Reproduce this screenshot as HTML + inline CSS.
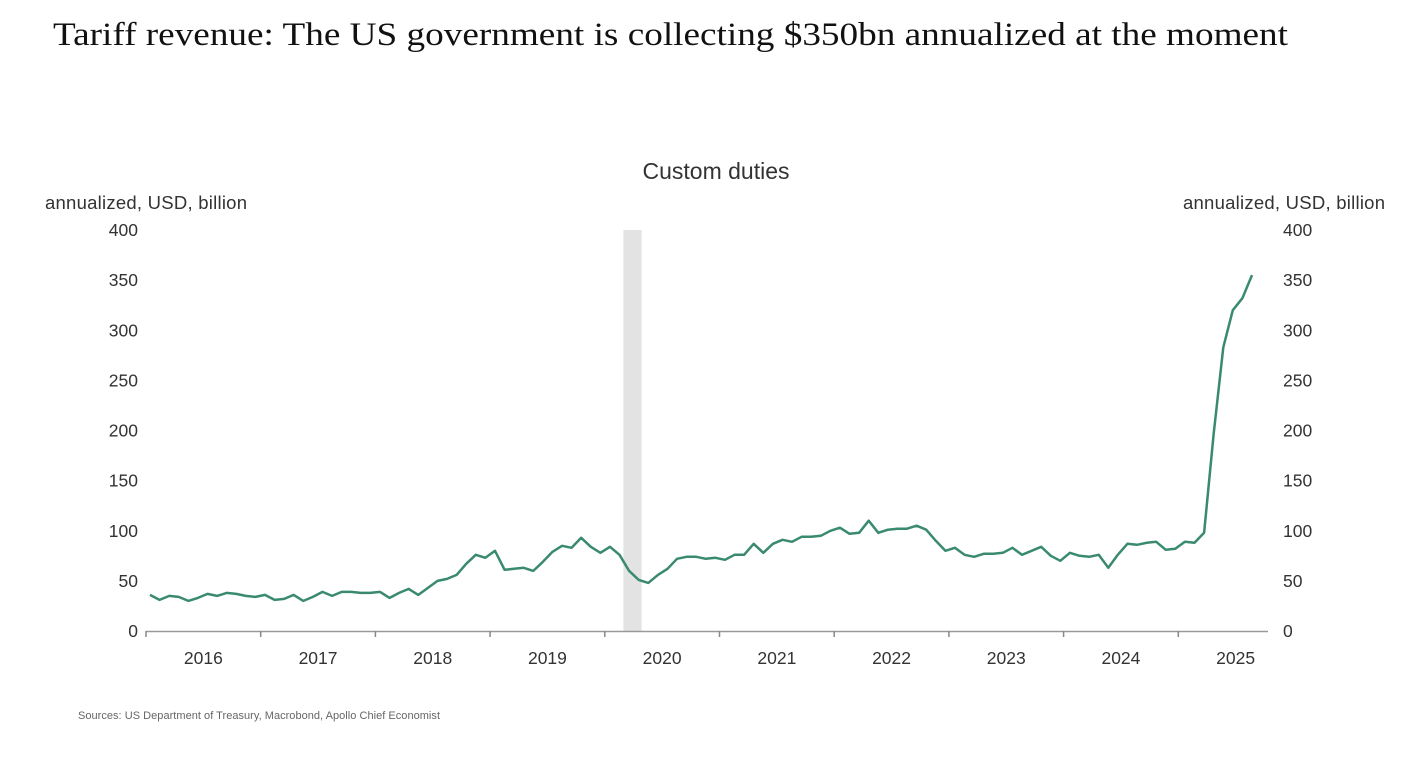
<!DOCTYPE html>
<html><head><meta charset="utf-8"><style>
body{margin:0;background:#fff;width:1414px;height:753px;overflow:hidden;font-family:"Liberation Sans",sans-serif}
</style></head><body>
<svg width="1414" height="753">
<text x="53" y="45" font-family="Liberation Serif" font-size="33" fill="#111" textLength="1235" lengthAdjust="spacingAndGlyphs">Tariff  revenue: The US government is collecting $350bn annualized at the moment</text>
<text x="716" y="179" text-anchor="middle" font-size="23" fill="#333">Custom duties</text>
<text x="45" y="209" font-size="18.5" fill="#333" textLength="202">annualized, USD, billion</text>
<text x="1183" y="209" font-size="18.5" fill="#333" textLength="202">annualized, USD, billion</text>
<text x="78" y="719" font-size="11" fill="#666" textLength="362">Sources: US Department of Treasury, Macrobond, Apollo Chief Economist</text>
<g id="plot"></g>
</svg>
<script>
const values=[36,31,35,34,30,33,37,35,38,37,35,34,36,31,32,36,30,34,39,35,39,39,38,38,39,33,38,42,36,43,50,52,56,67,76,73,80,61,62,63,60,69,79,85,83,93,84,78,84,76,60,51,48,
56,62,72,74,74,72,73,71,76,76,87,78,87,91,89,94,94,95,100,103,97,98,110,98,101,102,102,105,101,90,80,83,76,74,77,77,78,83,76,80,84,75,70,78,75,74,76,63,76,87,86,88,89,81,82,89,88,98,
197,283,320,332,355];
const yTicks=[0,50,100,150,200,250,300,350,400];
const years=["2016","2017","2018","2019","2020","2021","2022","2023","2024","2025"];
const recession=[49.4,51.3];
const g=document.getElementById('plot');
const NS="http://www.w3.org/2000/svg";
const X=i=>150+i*(1102/(values.length-1));
const Y=v=>631-v*(401/400);
function mk(t,a,txt){const e=document.createElementNS(NS,t);for(const k in a)e.setAttribute(k,a[k]);if(txt!==undefined)e.textContent=txt;g.appendChild(e);return e;}
const r=mk('rect',{x:X(recession[0]),y:Y(400),width:X(recession[1])-X(recession[0]),height:Y(0)-Y(400),fill:'#e3e3e3'});


yTicks.forEach(v=>{
 const a=mk('text',{x:138,y:Y(v)+6,'text-anchor':'end','font-size':17.5,fill:'#333'},v);
 
 
 const b=mk('text',{x:1283,y:Y(v)+6,'font-size':17.5,fill:'#333'},v);
 
 
});
const ax=mk('line',{x1:146,x2:1268,y1:631.5,y2:631.5,stroke:'#999','stroke-width':1.5});


const yw=114.7;
years.forEach((yr,k)=>{
 const tx=146+k*yw;
 const t=mk('line',{x1:tx,x2:tx,y1:631,y2:637,stroke:'#888','stroke-width':1.5});
 
 
 const l=mk('text',{x:tx+yw/2,y:664,'text-anchor':'middle','font-size':17.5,fill:'#333'},yr);
 
 
});
const p=mk('path',{d:values.map((v,i)=>(i?'L':'M')+X(i).toFixed(1)+','+Y(v).toFixed(1)).join(''),fill:'none',stroke:'#3a8a6e','stroke-width':2.5,'stroke-linejoin':'round'});


</script>
</body></html>
